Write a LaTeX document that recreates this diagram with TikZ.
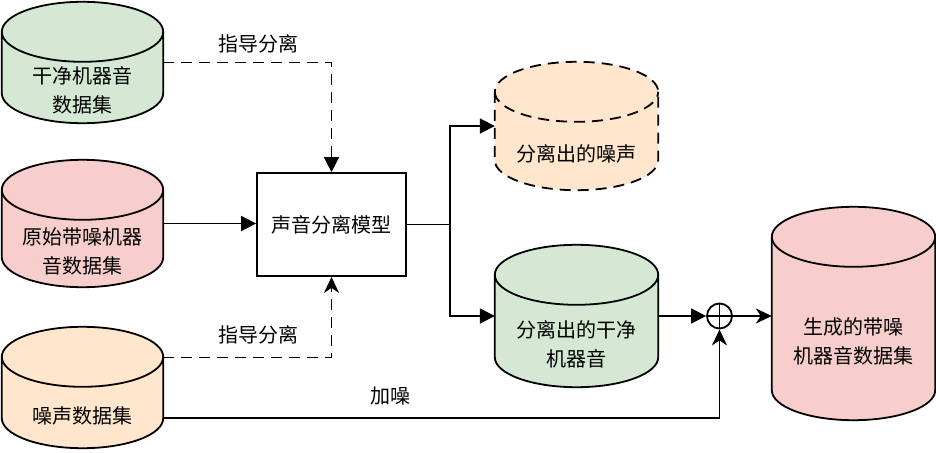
\documentclass[tikz,border=0pt]{standalone}
\usepackage{fontspec}
\setmainfont{Noto Sans CJK SC}
\usetikzlibrary{calc,arrows.meta}
\definecolor{greenfill}{HTML}{D5E8D4}
\definecolor{redfill}{HTML}{F8CECC}
\definecolor{orangefill}{HTML}{FFE6CC}

% cylinder outline drawn on the box of a named node
\newcommand{\silo}[2][]{%
  \path[draw, line width=1.8pt, #1] let \p1=(#2.north west), \p2=(#2.south east),
        \n1={0.5*(\x2-\x1)} in
    (\x1,\y1-30pt) -- (\x1,\y2+30pt)
      arc[start angle=180, end angle=360, x radius=\n1, y radius=30pt]
    -- (\x2,\y1-30pt)
      arc[start angle=0, end angle=180, x radius=\n1, y radius=30pt] -- cycle
    (\x1,\y1-30pt)
      arc[start angle=180, end angle=360, x radius=\n1, y radius=30pt];}

\begin{document}
\begin{tikzpicture}[x=1pt, y=-1pt, font=\fontsize{20}{29}\selectfont]

    \tikzstyle{body}=[rectangle, inner sep=0pt]
    \tikzstyle{txt}=[align=center, inner sep=0pt]
    \tikzstyle{line}=[line width=1.8pt]
    \tikzstyle{guide}=[line width=1.8pt, dash pattern=on 11pt off 7pt]
    \tikzstyle{block}=[-{Triangle[length=15pt, width=15pt]}]
    \tikzstyle{classic}=[-{Stealth[length=16pt, width=15pt, inset=5pt]}]

    \useasboundingbox (0,0) rectangle (936,452);

    % cylinders
    \node[body, minimum width=161pt, minimum height=121pt] (clean)   at (82.5,62.5)  {};
    \node[body, minimum width=161pt, minimum height=127pt] (noisy)   at (82.5,223.5) {};
    \node[body, minimum width=161pt, minimum height=121pt] (noise)   at (82.5,387.5) {};
    \node[body, minimum width=163pt, minimum height=128pt] (sepnoise) at (576.5,126) {};
    \node[body, minimum width=163pt, minimum height=142pt] (sepclean) at (576.5,316) {};
    \node[body, minimum width=163pt, minimum height=213pt] (result)  at (853.5,313.5) {};

    \silo[fill=greenfill]{clean}
    \silo[fill=redfill]{noisy}
    \silo[fill=orangefill]{noise}
    \silo[fill=orangefill, dash pattern=on 11pt off 7pt]{sepnoise}
    \silo[fill=greenfill]{sepclean}
    \silo[fill=redfill]{result}

    \node[txt] (cleantxt)    at ([yshift=-28pt]clean.center)    {干净机器音\\数据集};
    \node[txt] (noisytxt)    at ([yshift=-28pt]noisy.center)    {原始带噪机器\\音数据集};
    \node[txt] (noisetxt)    at ([yshift=-28pt]noise.center)    {噪声数据集};
    \node[txt] (sepnoisetxt) at ([yshift=-28pt]sepnoise.center) {分离出的噪声};
    \node[txt] (sepcleantxt) at ([yshift=-28pt]sepclean.center) {分离出的干净\\机器音};
    \node[txt] (resulttxt)   at ([yshift=-28pt]result.center)   {生成的带噪\\机器音数据集};

    % model and mixer
    \node[draw, line, minimum width=149pt, minimum height=103pt] (model) at (331.5,224.5) {声音分离模型};
    \node[draw, line, circle, minimum size=25pt, inner sep=0pt] (mix) at (719.5,316) {};
    \draw[line] (mix.north) -- (mix.south)
                (mix.west)  -- (mix.east);

    % connectors
    \draw[guide, block] (clean.east) -| (model.north);
    \draw[guide, classic] ([yshift=30pt]noise.east) -| (model.south);
    \draw[line, block] (noisy.east) -- (noisy.east -| model.west);
    \coordinate (split) at (450,224.5);
    \draw[line, block] (model.east) -- (split) |- (sepnoise.west);
    \draw[line, block] (split) |- (sepclean.west);
    \draw[line, block] (sepclean.east) -- (mix.west);
    \draw[line, classic] (mix.east) -- (mix -| result.west);
    \draw[line, classic] ([yshift=-30.5pt]noise.east) -| (mix.south);

    % labels
    \node (guide1) at (258,44)  {指导分离};
    \node (guide2) at (258,335) {指导分离};
    \node (addnoise) at (390,396) {加噪};
\end{tikzpicture}
\end{document}
